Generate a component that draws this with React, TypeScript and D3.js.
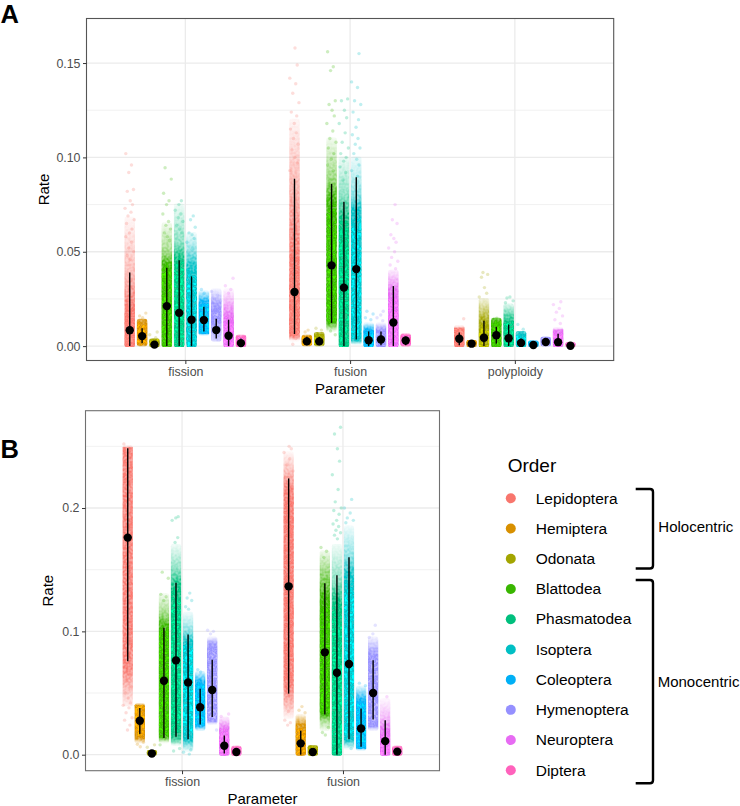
import React, { useEffect, useRef } from "react"
import * as d3 from "d3"

// ---------- Data ----------
const orders = ["Lepidoptera", "Hemiptera", "Odonata", "Blattodea", "Phasmatodea", "Isoptera", "Coleoptera", "Hymenoptera", "Neuroptera", "Diptera"]
const orderColors = ["#F8766D", "#D89000", "#A3A500", "#39B600", "#00BF7D", "#00BFC4", "#00B0F6", "#9590FF", "#E76BF3", "#FF62BC"]

const paramsA = ["fission", "fusion", "polyploidy"]
const paramsB = ["fission", "fusion"]
const ticksA = [0, 0.05, 0.1, 0.15]
const minorA = [0.025, 0.075, 0.125]
const ticksB = [0, 0.1, 0.2]
const minorB = [0.05, 0.15, 0.25]

// medians and 95% intervals, one entry per order
const aFissionMedian = [0.0084, 0.0053, 0.0008, 0.0212, 0.0176, 0.014, 0.0138, 0.0085, 0.0055, 0.0016]
const aFissionLo = [0, 0.0015, 0, 0, 0, 0, 0.0078, 0.004, 0, 0]
const aFissionHi = [0.039, 0.0095, 0.0025, 0.0415, 0.0455, 0.037, 0.0208, 0.0145, 0.014, 0.004]
const aFusionMedian = [0.0287, 0.0025, 0.0025, 0.0428, 0.031, 0.0408, 0.0031, 0.0035, 0.0125, 0.003]
const aFusionLo = [0.0064, 0.0005, 0.0005, 0.0123, 0, 0.0035, 0, 0.0005, 0, 0.0005]
const aFusionHi = [0.0887, 0.005, 0.005, 0.086, 0.0765, 0.0895, 0.0078, 0.0078, 0.0318, 0.005]
const aPolyMedian = [0.0039, 0.0013, 0.0044, 0.0058, 0.0042, 0.0017, 0.0006, 0.0022, 0.0021, 0.0002]
const aPolyLo = [0.0005, 0, 0, 0.0013, 0, 0, 0, 0.0005, 0, 0]
const aPolyHi = [0.0072, 0.003, 0.0135, 0.0102, 0.0115, 0.004, 0.0025, 0.004, 0.0065, 0.001]
const bFissionMedian = [0.176, 0.0275, 0.001, 0.06, 0.0765, 0.0586, 0.0385, 0.0525, 0.0073, 0.0022]
const bFissionLo = [0.0757, 0.0165, 0, 0.0135, 0.0145, 0.0125, 0.0245, 0.0305, 0.001, 0.0005]
const bFissionHi = [0.2485, 0.0378, 0.002, 0.103, 0.1395, 0.0975, 0.0535, 0.077, 0.0155, 0.004]
const bFusionMedian = [0.1365, 0.0092, 0.0022, 0.083, 0.0665, 0.0735, 0.0212, 0.05, 0.011, 0.0025]
const bFusionLo = [0.0495, 0, 0.0005, 0.0325, 0, 0.0125, 0.0065, 0.0285, 0, 0.0005]
const bFusionHi = [0.224, 0.0195, 0.004, 0.139, 0.1455, 0.16, 0.0375, 0.0765, 0.028, 0.004]

// dense part of each cloud, as value ranges from the faintest to the strongest
type Range = [number, number]
const aFissionCloud: Range[][] = [
    [[0, 0.068], [0, 0.04], [0, 0.022], [0, 0.012]],
    [[0.0005, 0.014], [0.001, 0.011]],
    [[0, 0.0035]],
    [[0, 0.065], [0, 0.05], [0, 0.044], [0, 0.039]],
    [[0, 0.075], [0, 0.055], [0, 0.047], [0, 0.04]],
    [[0, 0.06], [0, 0.05], [0, 0.042], [0, 0.034]],
    [[0.006, 0.029], [0.0065, 0.024], [0.007, 0.022]],
    [[0.003, 0.03], [0.003, 0.022], [0.003, 0.017]],
    [[0, 0.03], [0, 0.024], [0, 0.016], [0, 0.01]],
    [[0, 0.0055], [0, 0.0045]],
]
const aFusionCloud: Range[][] = [
    [[0.003, 0.12], [0.004, 0.09], [0.005, 0.05], [0.007, 0.028]],
    [[0.0005, 0.0055], [0.0008, 0.005]],
    [[0.0005, 0.007], [0.0008, 0.0055]],
    [[0.008, 0.11], [0.01, 0.09], [0.012, 0.078], [0.013, 0.066]],
    [[0, 0.1], [0, 0.08], [0, 0.068], [0, 0.058]],
    [[0.001, 0.1], [0.002, 0.08], [0.003, 0.072], [0.005, 0.06]],
    [[0, 0.012], [0, 0.009], [0, 0.0075]],
    [[0, 0.012], [0, 0.009], [0.0005, 0.006]],
    [[0, 0.04], [0, 0.03], [0, 0.02]],
    [[0.0003, 0.0062], [0.0005, 0.0055]],
]
const aPolyCloud: Range[][] = [
    [[0, 0.0105], [0, 0.0095], [0, 0.0085]],
    [[0, 0.0027]],
    [[0, 0.025], [0, 0.014], [0, 0.008]],
    [[0, 0.0145], [0, 0.0125]],
    [[0, 0.022], [0, 0.014], [0, 0.0115]],
    [[0, 0.0075], [0, 0.0055]],
    [[0, 0.0025]],
    [[0.0005, 0.0045]],
    [[0, 0.0095], [0, 0.0085], [0, 0.005]],
    [[0, 0.0015]],
]
const bFissionCloud: Range[][] = [
    [[0.04, 0.25], [0.07, 0.249], [0.09, 0.248]],
    [[0.01, 0.041], [0.013, 0.041], [0.015, 0.04]],
    [[0, 0.003]],
    [[0.01, 0.13], [0.012, 0.115], [0.014, 0.105], [0.018, 0.095]],
    [[0.008, 0.17], [0.01, 0.15], [0.015, 0.138], [0.025, 0.118]],
    [[0.003, 0.115], [0.008, 0.1], [0.012, 0.092], [0.018, 0.085]],
    [[0.02, 0.067], [0.023, 0.06], [0.025, 0.056]],
    [[0.025, 0.095], [0.027, 0.09], [0.03, 0.082]],
    [[0, 0.03], [0, 0.022], [0, 0.014]],
    [[0, 0.0065], [0, 0.0055]],
]
const bFusionCloud: Range[][] = [
    [[0.03, 0.245], [0.04, 0.23], [0.055, 0.215], [0.07, 0.2]],
    [[0, 0.032], [0, 0.025], [0, 0.018]],
    [[0, 0.007], [0, 0.0065]],
    [[0.02, 0.165], [0.028, 0.15], [0.032, 0.13], [0.036, 0.115]],
    [[0, 0.17], [0, 0.14], [0, 0.125], [0, 0.108]],
    [[0.005, 0.185], [0.008, 0.16], [0.012, 0.145], [0.018, 0.128]],
    [[0.004, 0.055], [0.005, 0.045], [0.006, 0.04]],
    [[0.02, 0.095], [0.023, 0.082], [0.028, 0.075]],
    [[0, 0.045], [0, 0.03], [0, 0.02], [0, 0.012]],
    [[0, 0.0065], [0, 0.0055]],
]

// how solid the densest part of a cloud gets, where it stays see-through
const bFissionCeiling = [0.78, 1, 1, 1, 1, 1, 1, 1, 1, 1]
const bFusionCeiling = [0.85, 1, 1, 1, 1, 1, 1, 1, 1, 1]

// stray samples above and below the dense part
const aFissionTail = [
    [0.102, 0.096, 0.092, 0.083, 0.082, 0.077, 0.075, 0.073, 0.071, 0.069, 0.067, 0.065, 0.062, 0.06, 0.058, 0.055, 0.052, 0.05, 0.048, 0.046],
    [0.0175, 0.016, 0.015, 0.0135],
    [0.0075, 0.006, 0.0045],
    [0.0945, 0.0885, 0.081, 0.077, 0.075, 0.07, 0.066, 0.064, 0.062, 0.06, 0.058, 0.056],
    [0.077, 0.075, 0.072, 0.07, 0.068, 0.066, 0.064, 0.062, 0.06],
    [0.069, 0.067, 0.063, 0.06, 0.059, 0.057, 0.055, 0.052],
    [0.03, 0.028],
    [0.029, 0.027, 0.025, 0.024],
    [0.036, 0.032, 0.03, 0.028],
    [],
]
const aFusionTail = [
    [0.158, 0.149, 0.142, 0.139, 0.134, 0.129, 0.124, 0.122, 0.118, 0.115, 0.113, 0.11, 0.107, 0.104, 0.1, 0.097, 0.093, 0.004, 0.001],
    [0.0085, 0.0075],
    [0.0095, 0.0085],
    [0.156, 0.148, 0.146, 0.13, 0.128, 0.125, 0.122, 0.118, 0.114, 0.11, 0.108, 0.105, 0.102, 0.099, 0.096, 0.093, 0.008, 0.006],
    [0.131, 0.13, 0.125, 0.121, 0.118, 0.113, 0.108, 0.105, 0.102, 0.1, 0.098, 0.095, 0.092, 0.088],
    [0.155, 0.14, 0.137, 0.13, 0.128, 0.124, 0.12, 0.116, 0.112, 0.11, 0.107, 0.105, 0.102, 0.099, 0.096, 0.093, 0.09],
    [0.0185, 0.017, 0.015, 0.014],
    [0.0185, 0.0165, 0.015, 0.0135],
    [0.075, 0.067, 0.065, 0.059, 0.057, 0.055, 0.052, 0.05, 0.047, 0.045, 0.043, 0.041],
    [],
]
const aPolyTail = [
    [0.0145],
    [],
    [0.039, 0.038, 0.0365, 0.031, 0.028, 0.026],
    [0.0148],
    [0.026, 0.0255, 0.024, 0.023],
    [0.0115, 0.009],
    [],
    [],
    [0.0235, 0.022, 0.02, 0.018, 0.016, 0.014, 0.012],
    [],
]
const bFissionTail = [
    [0.252, 0.065, 0.06, 0.055, 0.05, 0.046, 0.042, 0.04, 0.038, 0.034, 0.03, 0.028, 0.024, 0.02],
    [0.01, 0.0085, 0.0065],
    [0.008, 0.006],
    [0.148, 0.143, 0.13, 0.128, 0.125, 0.008],
    [0.193, 0.192, 0.19, 0.176, 0.172, 0.005, 0.003],
    [0.131, 0.127, 0.125, 0.12, 0.118, 0.004, 0.002, 0.0005],
    [0.069, 0.067],
    [0.101, 0.1, 0.098, 0.02],
    [0.033, 0.031],
    [],
]
const bFusionTail = [
    [0.25, 0.248, 0.245, 0.24, 0.235, 0.23, 0.225, 0.038, 0.035, 0.028, 0.026, 0.024],
    [0.039, 0.036, 0.034],
    [],
    [0.168, 0.165, 0.16, 0.022, 0.018, 0.016],
    [0.2655, 0.26, 0.248, 0.238, 0.227, 0.215, 0.205, 0.2, 0.198, 0.195, 0.19, 0.187, 0.185, 0.182, 0.18, 0.178, 0.175],
    [0.207, 0.2, 0.196, 0.192, 0.19, 0.188, 0.005],
    [0.058, 0.056],
    [0.105, 0.098, 0.095],
    [0.047],
    [],
]

const holocentric = "Holocentric"
const monocentric = "Monocentric"

// ---------- Panels ----------
interface ParamSeries {
    median: number[]
    lo: number[]
    hi: number[]
    cloud: Range[][]
    tail: number[][]
    ceiling?: number[]
}

interface PanelConfig {
    id: string
    label: string
    labelY: number
    rateX: number
    left: number
    right: number
    top: number
    bottom: number
    domain: [number, number]
    ticks: number[]
    minor: number[]
    tickFormat: string
    params: string[]
    series: ParamSeries[]
    borderColor: string
}

const panelA: PanelConfig = {
    id: "a", label: "A", labelY: 23.2, rateX: 49.3,
    left: 86.5, right: 613.7, top: 18.5, bottom: 360.5,
    domain: [-0.00762, 0.1736],
    ticks: ticksA, minor: minorA, tickFormat: ".2f",
    params: paramsA,
    series: [
        { median: aFissionMedian, lo: aFissionLo, hi: aFissionHi, cloud: aFissionCloud, tail: aFissionTail },
        { median: aFusionMedian, lo: aFusionLo, hi: aFusionHi, cloud: aFusionCloud, tail: aFusionTail },
        { median: aPolyMedian, lo: aPolyLo, hi: aPolyHi, cloud: aPolyCloud, tail: aPolyTail },
    ],
    borderColor: "#555",
}

const panelB: PanelConfig = {
    id: "b", label: "B", labelY: 458, rateX: 53.3,
    left: 85.5, right: 439.5, top: 410.7, bottom: 770.7,
    domain: [-0.01297, 0.2789],
    ticks: ticksB, minor: minorB, tickFormat: ".1f",
    params: paramsB,
    series: [
        { median: bFissionMedian, lo: bFissionLo, hi: bFissionHi, cloud: bFissionCloud, tail: bFissionTail, ceiling: bFissionCeiling },
        { median: bFusionMedian, lo: bFusionLo, hi: bFusionHi, cloud: bFusionCloud, tail: bFusionTail, ceiling: bFusionCeiling },
    ],
    borderColor: "#707070",
}

const FONT = "'Liberation Sans', Arial, sans-serif"
const levelOpacity = [0.15, 0.3, 0.65, 0.97]
const jitterSteps = [-0.8, 0.35, -0.2, 0.75, -0.5, 0.1, 0.55, -0.95, 0.25, -0.35, 0.9, -0.65, 0.45, -0.05]

// opacity of the cloud at a value, from the ranges that cover it
const opacityAt = (ranges: Range[], v: number) => {
    let clear = 1
    ranges.forEach((r, level) => {
        if (v >= r[0] && v <= r[1]) clear *= 1 - levelOpacity[levelOpacity.length - ranges.length + level]
    })
    return 1 - clear
}

const drawPanel = (root: d3.Selection<SVGSVGElement, unknown, null, undefined>, p: PanelConfig) => {
    const g = root.append("g")
    const defs = root.select<SVGDefsElement>("defs")

    const xScale = d3.scalePoint<string>().domain(p.params).range([p.left, p.right]).padding(0.6)
    const yScale = d3.scaleLinear().domain(p.domain).range([p.bottom, p.top])
    const step = xScale.step()
    const dodge = d3.scaleBand<string>().domain(orders).range([-0.375 * step, 0.375 * step])
    const halfWidth = dodge.bandwidth() * 0.4

    // Grid lines
    g.selectAll(".minor").data(p.minor).enter().append("line")
        .attr("x1", p.left).attr("x2", p.right)
        .attr("y1", d => yScale(d)).attr("y2", d => yScale(d))
        .attr("stroke", "#EBEBEB").attr("stroke-width", 0.7)
    g.selectAll(".major").data(p.ticks).enter().append("line")
        .attr("x1", p.left).attr("x2", p.right)
        .attr("y1", d => yScale(d)).attr("y2", d => yScale(d))
        .attr("stroke", "#EBEBEB").attr("stroke-width", 1.3)
    g.selectAll(".xgrid").data(p.params).enter().append("line")
        .attr("x1", d => xScale(d) ?? 0).attr("x2", d => xScale(d) ?? 0)
        .attr("y1", p.top).attr("y2", p.bottom)
        .attr("stroke", "#EBEBEB").attr("stroke-width", 1.3)

    p.series.forEach((s, pi) => {
        const center = xScale(p.params[pi]) ?? 0
        const xOf = (i: number) => center + (dodge(orders[i]) ?? 0) + dodge.bandwidth() / 2
        const clouds = g.append("g").attr("filter", "url(#grain)")
        const strays = g.append("g").attr("filter", "url(#soft)")

        orders.forEach((_, i) => {
            const x = xOf(i)
            const ranges = s.cloud[i]
            const low = d3.min(ranges, r => r[0]) ?? 0
            const high = d3.max(ranges, r => r[1]) ?? 0
            const y0 = yScale(low) + 1
            const y1 = yScale(high) - 1
            const ceiling = s.ceiling ? s.ceiling[i] : 1

            // vertical fade through the range edges, thin at the ends of a tall cloud
            const gradId = `grad-${p.id}-${pi}-${i}`
            const grad = defs.append("linearGradient")
                .attr("id", gradId)
                .attr("gradientUnits", "userSpaceOnUse")
                .attr("x1", 0).attr("x2", 0).attr("y1", y1).attr("y2", y0)
            const edges = [...new Set(ranges.flat())].sort((a, b) => b - a)
            edges.forEach(e => {
                let op = Math.min(ceiling, opacityAt(ranges, e))
                const isEnd = e === high || (e === low && low > 0)
                if (ranges.length >= 3 && isEnd) op *= 0.4
                grad.append("stop")
                    .attr("offset", Math.min(1, Math.max(0, (yScale(e) - y1) / (y0 - y1))))
                    .attr("stop-color", orderColors[i])
                    .attr("stop-opacity", op)
            })

            clouds.append("rect")
                .attr("x", x - halfWidth - 0.3)
                .attr("width", halfWidth * 2 + 0.6)
                .attr("y", y1)
                .attr("height", Math.max(2, y0 - y1))
                .attr("rx", 2.2)
                .attr("fill", `url(#${gradId})`)

            s.tail[i].forEach((v, k) => {
                const jitter = jitterSteps[(k + i * 3 + pi * 5) % jitterSteps.length]
                strays.append("circle")
                    .attr("cx", x + jitter * halfWidth)
                    .attr("cy", yScale(v))
                    .attr("r", 1.7)
                    .attr("fill", orderColors[i])
                    .attr("opacity", 0.25)
            })
        })

        // Intervals and medians
        orders.forEach((_, i) => {
            g.append("line")
                .attr("x1", xOf(i)).attr("x2", xOf(i))
                .attr("y1", yScale(s.lo[i])).attr("y2", yScale(s.hi[i]))
                .attr("stroke", "#000").attr("stroke-width", 1.4)
            g.append("circle")
                .attr("cx", xOf(i)).attr("cy", yScale(s.median[i]))
                .attr("r", 4.2).attr("fill", "#000")
        })
    })

    // Border
    g.append("rect")
        .attr("x", p.left).attr("y", p.top)
        .attr("width", p.right - p.left).attr("height", p.bottom - p.top)
        .attr("fill", "none").attr("stroke", p.borderColor).attr("stroke-width", 1.1)

    // Axes
    const xAxis = g.append("g").attr("transform", `translate(0,${p.bottom})`)
        .call(d3.axisBottom(xScale).tickSize(3.5).tickSizeOuter(0).tickPadding(3))
    const yAxis = g.append("g").attr("transform", `translate(${p.left},0)`)
        .call(d3.axisLeft(yScale).tickValues(p.ticks).tickFormat(d3.format(p.tickFormat) as any).tickSize(3.5).tickSizeOuter(0).tickPadding(2.5))
    for (const axis of [xAxis, yAxis]) {
        axis.select(".domain").remove()
        axis.selectAll("line").attr("stroke", "#333")
        axis.selectAll("text")
            .attr("fill", "#4D4D4D")
            .attr("font-size", "12.4px")
            .attr("font-family", FONT)
    }

    // Axis titles
    g.append("text")
        .attr("x", (p.left + p.right) / 2)
        .attr("y", p.bottom + 33.5)
        .attr("text-anchor", "middle")
        .attr("font-size", "15px")
        .attr("font-family", FONT)
        .text("Parameter")
    g.append("text")
        .attr("transform", `translate(${p.rateX},${(p.top + p.bottom) / 2}) rotate(-90)`)
        .attr("text-anchor", "middle")
        .attr("font-size", "15px")
        .attr("font-family", FONT)
        .text("Rate")

    // Panel tag
    g.append("text")
        .attr("x", 0.5)
        .attr("y", p.labelY)
        .attr("font-size", "25.5px")
        .attr("font-weight", "bold")
        .attr("font-family", FONT)
        .text(p.label)
}

const drawLegend = (root: d3.Selection<SVGSVGElement, unknown, null, undefined>) => {
    const g = root.append("g").attr("font-family", FONT)
    const y = d3.scalePoint<string>().domain(orders).range([498.3, 770.3])

    g.append("text").attr("x", 507.7).attr("y", 471.7).attr("font-size", "19px").text("Order")

    g.selectAll(".key").data(orders).enter().append("circle")
        .attr("cx", 510.8).attr("cy", d => y(d) ?? 0).attr("r", 5)
        .attr("fill", (_, i) => orderColors[i])
    g.selectAll(".name").data(orders).enter().append("text")
        .attr("x", 535.7).attr("y", d => (y(d) ?? 0) + 5.3)
        .attr("font-size", "15.5px")
        .text(d => d)

    const bracket = (top: number, bottom: number) => {
        const path = d3.path()
        path.moveTo(635.7, top)
        path.lineTo(650, top)
        path.quadraticCurveTo(653, top, 653, top + 3)
        path.lineTo(653, bottom - 3)
        path.quadraticCurveTo(653, bottom, 650, bottom)
        path.lineTo(635.7, bottom)
        return path.toString()
    }
    g.append("path").attr("d", bracket(489, 568.5)).attr("fill", "none").attr("stroke", "#000").attr("stroke-width", 2.4)
    g.append("path").attr("d", bracket(580, 783.3)).attr("fill", "none").attr("stroke", "#000").attr("stroke-width", 2.4)

    g.append("text").attr("x", 658.3).attr("y", 531.7).attr("font-size", "15px").text(holocentric)
    g.append("text").attr("x", 657.7).attr("y", 687).attr("font-size", "15px").text(monocentric)
}

// ---------- Component ----------
const App: React.FC = () => {
    const svgRef = useRef<SVGSVGElement>(null)

    useEffect(() => {
        if (!svgRef.current) return
        const svg = d3.select(svgRef.current)
        svg.selectAll("*").remove()

        const defs = svg.append("defs")
        defs.append("filter")
            .attr("id", "soft")
            .attr("x", "-5%").attr("y", "-5%").attr("width", "110%").attr("height", "110%")
            .append("feGaussianBlur").attr("stdDeviation", 0.4)

        // mottled texture so the solid ranges read as many overplotted dots
        const grain = defs.append("filter")
            .attr("id", "grain")
            .attr("x", "-5%").attr("y", "-5%").attr("width", "110%").attr("height", "110%")
            .attr("color-interpolation-filters", "sRGB")
        grain.append("feTurbulence")
            .attr("type", "fractalNoise").attr("baseFrequency", 0.42).attr("numOctaves", 1).attr("seed", 4)
            .attr("result", "noise")
        grain.append("feColorMatrix")
            .attr("in", "noise").attr("type", "matrix")
            .attr("values", "0 0 0 0 1  0 0 0 0 1  0 0 0 0 1  2.6 0 0 0 -0.8")
            .attr("result", "mask")
        grain.append("feComposite")
            .attr("in", "SourceGraphic").attr("in2", "mask")
            .attr("operator", "arithmetic")
            .attr("k1", 0.5).attr("k2", 0.85).attr("k3", 0).attr("k4", 0)
            .attr("result", "mottled")
        grain.append("feGaussianBlur").attr("in", "mottled").attr("stdDeviation", 0.4)

        drawPanel(svg, panelA)
        drawPanel(svg, panelB)
        drawLegend(svg)
    }, [])

    return (
        <svg
            ref={svgRef}
            width={740}
            height={806}
            style={{ position: "absolute", left: 0, top: 0, display: "block", background: "#fff" }}
        />
    )
}

export default App
